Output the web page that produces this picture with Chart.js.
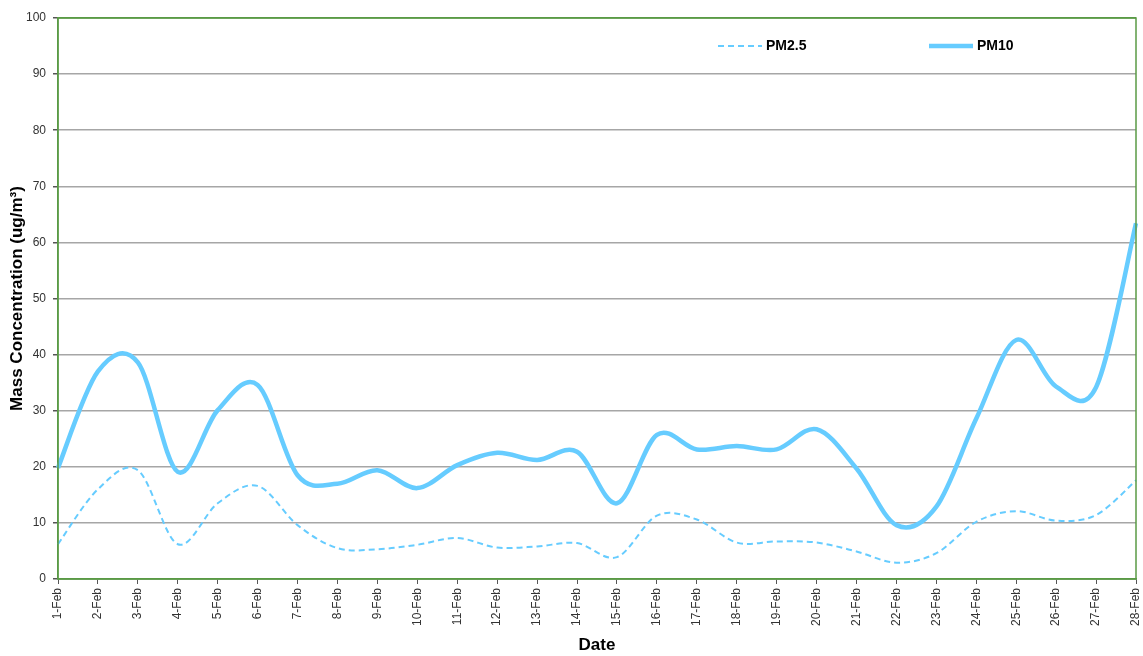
<!DOCTYPE html>
<html>
<head>
<meta charset="utf-8">
<script src="https://cdn.jsdelivr.net/npm/chart.js@4"></script>
<style>
  html, body { margin: 0; padding: 0; background: #fff; }
  #wrap { width: 1143px; height: 656px; }
</style>
</head>
<body>
<div id="wrap"><canvas id="pmChart"></canvas></div>
<script>
const dates = ['1-Feb', '2-Feb', '3-Feb', '4-Feb', '5-Feb', '6-Feb', '7-Feb', '8-Feb', '9-Feb', '10-Feb',
    '11-Feb', '12-Feb', '13-Feb', '14-Feb', '15-Feb', '16-Feb', '17-Feb', '18-Feb', '19-Feb', '20-Feb',
    '21-Feb', '22-Feb', '23-Feb', '24-Feb', '25-Feb', '26-Feb', '27-Feb', '28-Feb'];

const pm25 = [6.2, 16, 19.4, 6.2, 13.5, 16.6, 9.6, 5.5, 5.3, 6.1,
    7.3, 5.6, 5.8, 6.4, 3.9, 11.3, 10.6, 6.5, 6.7, 6.5,
    4.9, 2.9, 4.6, 10.2, 12.1, 10.4, 11.4, 17.6];

const pm10 = [19.8, 37.0, 38.6, 19.1, 30.1, 34.6, 18.5, 17.0, 19.4, 16.2,
    20.3, 22.5, 21.2, 22.7, 13.5, 25.7, 23.1, 23.7, 23.1, 26.7,
    19.7, 9.6, 12.9, 28.6, 42.6, 34.3, 34.2, 63.4];

const yTicks = [0, 10, 20, 30, 40, 50, 60, 70, 80, 90, 100];

const lineColor = '#66ccff';
const frameColor = '#5a9a45';
const fontFamily = '"Liberation Sans", Arial, sans-serif';

// excel style smoothing: uniform catmull-rom control points on the scaled points
const smoothPlugin = {
    id: 'smoothPlugin',
    beforeDatasetDraw(chart, args) {
        const meta = args.meta;
        const line = meta.dataset;
        if (!line) return;
        line.updateControlPoints(chart.chartArea, meta.indexAxis);
        const pts = meta.data;
        for (let i = 0; i < pts.length; i++) {
            const p = pts[i];
            const prev = pts[i - 1] || p;
            const next = pts[i + 1] || p;
            const dx = (next.x - prev.x) / 6;
            const dy = (next.y - prev.y) / 6;
            p.cp1x = p.x - dx;
            p.cp1y = p.y - dy;
            p.cp2x = p.x + dx;
            p.cp2y = p.y + dy;
        }
    }
};

// frame round the plot and the legend inside it
const framePlugin = {
    id: 'framePlugin',
    afterDraw(chart) {
        const ctx = chart.ctx;
        const a = chart.chartArea;
        ctx.save();
        ctx.strokeStyle = frameColor;
        ctx.lineWidth = 1.5;
        ctx.strokeRect(a.left, a.top, a.right - a.left, a.bottom - a.top);

        const items = [
            { ds: chart.data.datasets[0], x: 718 },
            { ds: chart.data.datasets[1], x: 929 }
        ];
        const y = 46;
        ctx.font = 'bold 14px ' + fontFamily;
        ctx.textBaseline = 'middle';
        ctx.fillStyle = '#000';
        items.forEach(function(it) {
            ctx.beginPath();
            ctx.strokeStyle = it.ds.borderColor;
            ctx.lineWidth = it.ds.borderWidth;
            ctx.setLineDash(it.ds.borderDash || []);
            ctx.moveTo(it.x, y);
            ctx.lineTo(it.x + 44, y);
            ctx.stroke();
            ctx.setLineDash([]);
            ctx.fillText(it.ds.label, it.x + 48, y + 0.5);
        });
        ctx.restore();
    }
};

new Chart(document.getElementById('pmChart'), {
    type: 'line',
    data: {
        labels: dates,
        datasets: [{
            label: 'PM2.5',
            data: pm25,
            borderColor: lineColor,
            borderWidth: 2,
            borderDash: [6, 4],
            pointRadius: 0,
            tension: 0.4,
            fill: false
        }, {
            label: 'PM10',
            data: pm10,
            borderColor: lineColor,
            borderWidth: 4.5,
            pointRadius: 0,
            tension: 0.4,
            fill: false
        }]
    },
    options: {
        responsive: true,
        maintainAspectRatio: false,
        animation: false,
        layout: { padding: { left: 0, right: 7, top: 18, bottom: 0 } },
        plugins: {
            legend: { display: false },
            tooltip: { enabled: false }
        },
        scales: {
            x: {
                offset: false,
                afterFit: function(scale) {
                    scale.height = 77;
                    scale.paddingLeft = 0;
                    scale.paddingRight = 0;
                },
                grid: {
                    drawOnChartArea: false,
                    drawTicks: true,
                    tickLength: 5,
                    tickColor: '#555'
                },
                border: { color: frameColor, width: 1.5 },
                ticks: {
                    minRotation: 90,
                    maxRotation: 90,
                    autoSkip: false,
                    padding: 4,
                    color: '#333',
                    font: { family: fontFamily, size: 12 }
                },
                title: {
                    display: true,
                    text: 'Date',
                    color: '#000',
                    padding: { top: 0, bottom: 0 },
                    font: { family: fontFamily, size: 17, weight: 'bold' }
                }
            },
            y: {
                min: 0,
                max: 100,
                afterFit: function(scale) { scale.width = 58; },
                afterBuildTicks: function(scale) {
                    scale.ticks = yTicks.map(function(v) { return { value: v }; });
                },
                grid: {
                    color: function(c) { return c.tick && c.tick.value === 100 ? frameColor : '#a6a6a6'; },
                    lineWidth: 1.5,
                    tickLength: 5,
                    tickColor: '#555'
                },
                border: { color: frameColor, width: 1.5 },
                ticks: {
                    padding: 7,
                    color: '#333',
                    font: { family: fontFamily, size: 12 }
                },
                title: {
                    display: true,
                    text: 'Mass Concentration (ug/m³)',
                    color: '#000',
                    padding: { top: 7, bottom: 0 },
                    font: { family: fontFamily, size: 17, weight: 'bold' }
                }
            }
        }
    },
    plugins: [smoothPlugin, framePlugin]
});
</script>
</body>
</html>
